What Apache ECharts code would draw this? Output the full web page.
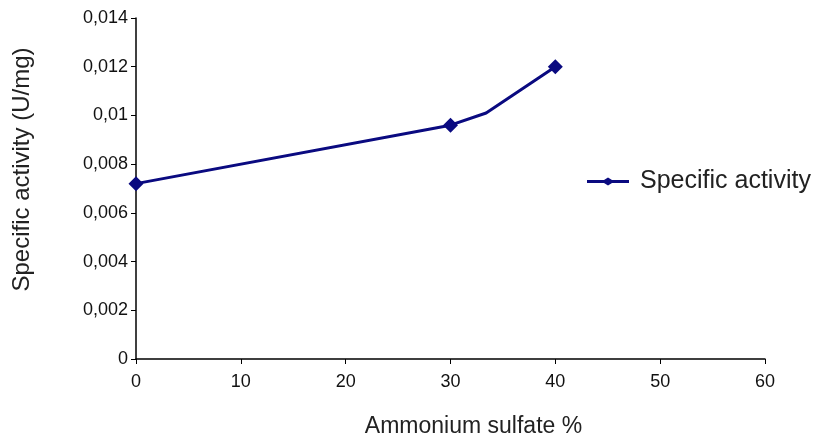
<!DOCTYPE html>
<html>
<head>
<meta charset="utf-8">
<script src="https://cdn.jsdelivr.net/npm/echarts@6/dist/echarts.min.js"></script>
<style>
  html, body { margin: 0; padding: 0; background: #fff; }
  #chart { width: 820px; height: 443px; }
</style>
</head>
<body>
<div id="chart"></div>
<script>
// data
var xValues = [0, 30, 33.4, 40];
var yValues = [0.0072, 0.0096, 0.0101, 0.012];
var showMarker = [true, true, false, true];
var seriesName = "Specific activity";

var points = xValues.map(function (x, i) {
  var p = { value: [x, yValues[i]] };
  if (!showMarker[i]) p.symbol = "none";
  return p;
});

var myChart = echarts.init(document.getElementById("chart"));

var option = {
  animation: false,
  textStyle: { fontFamily: "Liberation Sans, Arial, sans-serif" },
  grid: { left: 136, right: 55, top: 18, bottom: 83 },
  legend: {
    data: [{ name: seriesName, icon: "path://M0,2.5 L17,2.5 L21,0 L25,2.5 L42,2.5 L42,5.5 L25,5.5 L21,8 L17,5.5 L0,5.5 Z" }],
    left: 582,
    top: 164,
    itemWidth: 42,
    itemHeight: 8,
    textStyle: { fontSize: 25, color: "#222", padding: [0, 0, 0, 6] }
  },
  xAxis: {
    type: "value",
    min: 0,
    max: 60,
    interval: 10,
    name: "Ammonium sulfate %",
    nameLocation: "middle",
    nameGap: 56,
    nameTextStyle: { fontSize: 23, color: "#222", padding: [0, 0, 0, 46] },
    axisLine: { lineStyle: { color: "#000", width: 1.5 } },
    axisTick: { length: 5, lineStyle: { color: "#000" } },
    axisLabel: { fontSize: 18, color: "#111", margin: 14 },
    splitLine: { show: false }
  },
  yAxis: {
    type: "value",
    min: 0,
    max: 0.014,
    interval: 0.002,
    name: "Specific activity (U/mg)",
    nameLocation: "middle",
    nameGap: 102,
    nameTextStyle: { fontSize: 24, color: "#222", padding: [0, 0, 0, 38] },
    axisLine: { show: true, lineStyle: { color: "#000", width: 1.5 } },
    axisTick: { show: true, length: 5, lineStyle: { color: "#000" } },
    axisLabel: {
      fontSize: 18,
      color: "#111",
      margin: 8,
      formatter: function (v) { return String(+v.toFixed(3)).replace(".", ","); }
    },
    splitLine: { show: false }
  },
  series: [
    {
      name: seriesName,
      type: "line",
      data: points,
      symbol: "diamond",
      symbolSize: 15,
      lineStyle: { color: "#0a0a80", width: 3 },
      itemStyle: { color: "#0a0a80" }
    }
  ]
};

myChart.setOption(option);
</script>
</body>
</html>
